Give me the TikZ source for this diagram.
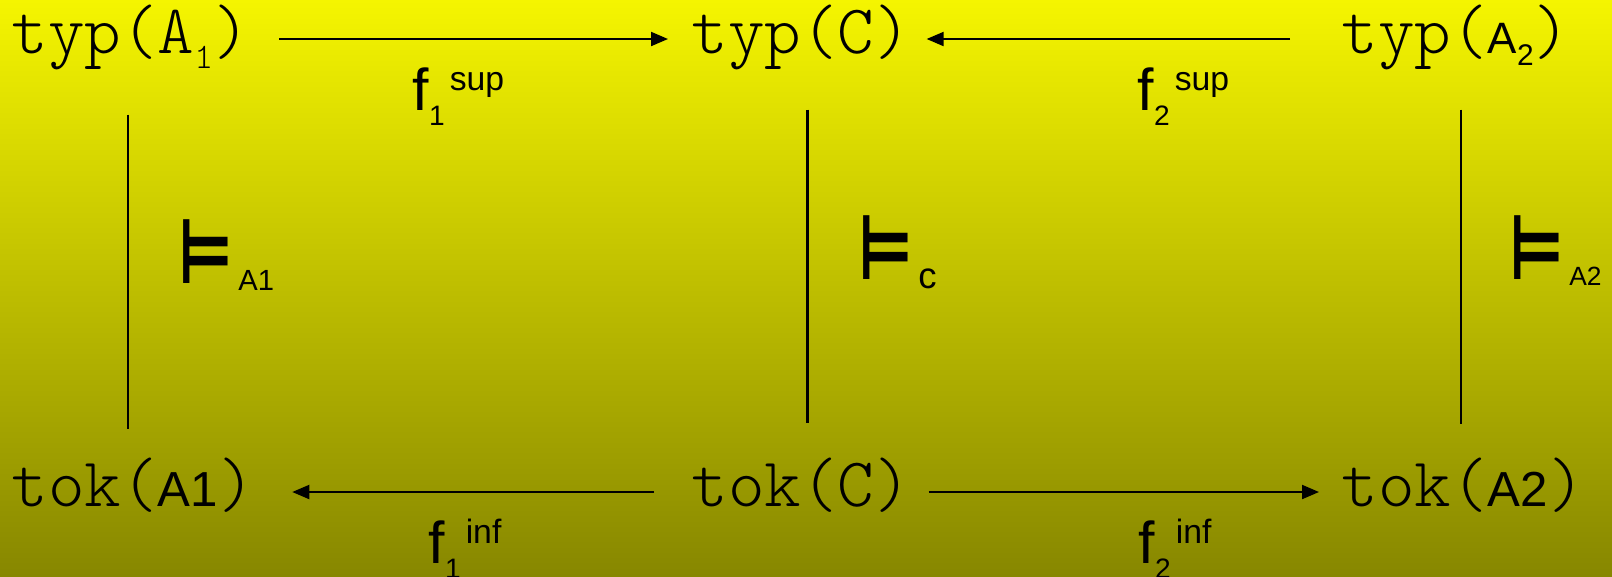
\documentclass[tikz,border=0pt]{standalone}
\usepackage{fontspec}
\setsansfont{Liberation Sans}
\setmonofont{lmmonolt10-regular.otf}
\newfontfamily\symfont{DejaVu Sans}
\usepackage{tikz}
\usetikzlibrary{arrows.meta,positioning,calc}
\definecolor{bgtop}{RGB}{245,245,0}
\definecolor{bgbottom}{RGB}{135,135,0}
\newcommand{\monosize}{\fontsize{19.8}{24}\selectfont\ttfamily}
\newcommand{\flabel}[2]{{\fontsize{16.8}{20}\selectfont f}\raisebox{-0.15cm}{\fontsize{8}{10}\selectfont #1}\kern0.05cm\raisebox{0.2cm}{\fontsize{9.6}{11}\selectfont #2}}
\newcommand{\satlabel}[3]{\scalebox{0.68}[1.03]{\symfont\bfseries\fontsize{25}{30}\selectfont ⊨}\kern0.05cm\raisebox{-#3}{\fontsize{#2}{12}\selectfont #1}}

\begin{document}
\begin{tikzpicture}[every node/.style={inner sep=0pt, font=\sffamily},
  term/.style={anchor=base west, text height=0.48cm, text depth=0.2cm},
  arrow/.style={line width=0.02cm, -{Triangle[length=0.17cm,width=0.14cm]}}]
  \shade[top color=bgtop, bottom color=bgbottom] (0,0) rectangle (16.12,5.76);
  \useasboundingbox (0,0) rectangle (16.12,5.76);
  % types
  \node[term] (typA1) at (0.11,5.23) {\monosize typ(A\raisebox{-0.15cm}{\fontsize{10.2}{12}\selectfont 1})};
  \node[term] (typC) at (6.91,5.23) {\monosize typ(C)};
  \node[term] (typA2) at (13.41,5.23) {\monosize typ({\sffamily\fontsize{12.5}{14}\selectfont A\raisebox{-0.12cm}{\fontsize{8.5}{10}\selectfont 2}})};
  % tokens
  \node[term] (tokA1) at (0.11,0.70) {\monosize tok({\sffamily\fontsize{14}{17}\selectfont A1})};
  \node[term] (tokC) at (6.91,0.70) {\monosize tok(C)};
  \node[term] (tokA2) at (13.41,0.70) {\monosize tok({\sffamily\fontsize{14}{17}\selectfont A2})};
  % arrows
  \draw[arrow, shorten <=0.29cm, shorten >=0.23cm] (typA1) -- (typC);
  \draw[arrow, shorten <=0.51cm, shorten >=0.15cm] (typA2) -- (typC);
  \draw[arrow, shorten <=0.37cm, shorten >=0.37cm] (tokC) -- (tokA1);
  \draw[arrow, shorten <=0.17cm, shorten >=0.22cm] (tokC) -- (tokA2);
  \node[anchor=base west] (fsupA1) at (4.12,4.66) {\flabel{1}{sup}};
  \node[anchor=base west] (fsupA2) at (11.37,4.66) {\flabel{2}{sup}};
  \node[anchor=base west] (finfA1) at (4.28,0.13) {\flabel{1}{inf}};
  \node[anchor=base west] (finfA2) at (11.38,0.13) {\flabel{2}{inf}};
  % satisfaction
  \draw[line width=0.018cm, shorten <=0.41cm, shorten >=0.28cm] ([xshift=-0.03cm]typA1.south) -- ([xshift=-0.03cm]typA1.south |- tokA1.north);
  \draw[line width=0.028cm, shorten <=0.36cm, shorten >=0.34cm] ([xshift=0.06cm]typC.south) -- ([xshift=0.06cm]typC.south |- tokC.north);
  \draw[line width=0.018cm, shorten <=0.36cm, shorten >=0.33cm] ([xshift=0.05cm]typA2.south) -- ([xshift=0.05cm]typA2.south |- tokA2.north);
  \node[anchor=base west] (satA1) at (1.78,2.93) {\satlabel{A1}{8.3}{0.07cm}};
  \node[anchor=base west] (satC) at (8.58,2.97) {\satlabel{c}{10.4}{0.09cm}};
  \node[anchor=base west] (satA2) at (15.09,2.97) {\satlabel{A2}{7.5}{0.06cm}};
\end{tikzpicture}
\end{document}
